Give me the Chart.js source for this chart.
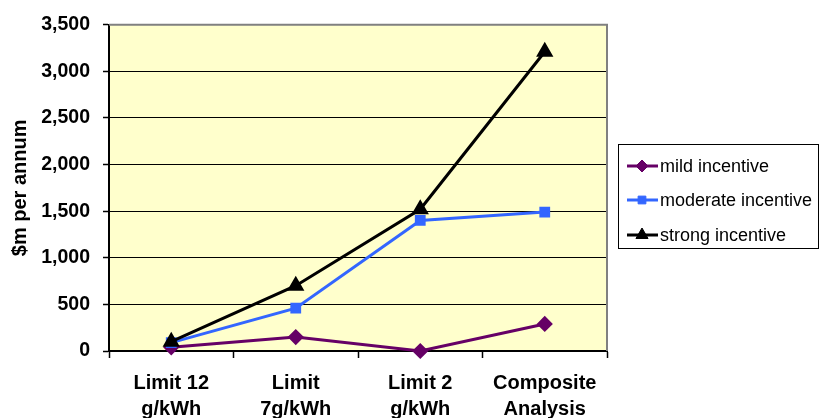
<!DOCTYPE html>
<html>
<head>
<meta charset="utf-8">
<script src="https://cdn.jsdelivr.net/npm/chart.js@4/dist/chart.umd.min.js"></script>
<style>
  html, body { margin: 0; padding: 0; background: #ffffff; }
  #wrap { width: 819px; height: 418px; position: relative; }
</style>
</head>
<body>
<div id="wrap"><canvas id="chart"></canvas></div>
<script>
// Scenario categories (two-line axis labels)
const categories = [
  ['Limit 12', 'g/kWh'],
  ['Limit', '7g/kWh'],
  ['Limit 2', 'g/kWh'],
  ['Composite', 'Analysis']
];

// Annual cost, $m, per incentive level
const mildIncentive = [40, 150, 0, 290];
const moderateIncentive = [90, 460, 1400, 1490];
const strongIncentive = [100, 700, 1520, 3210];

const seriesNames = ['mild incentive', 'moderate incentive', 'strong incentive'];

// Value axis
const yMin = 0;
const yMax = 3500;
const yStep = 500;

const FONT = '"Liberation Sans", Arial, sans-serif';

// Plot background and grey frame on top / right
const plotFrame = {
  id: 'plotFrame',
  beforeDraw(chart) {
    const { ctx, chartArea: a } = chart;
    ctx.save();
    ctx.fillStyle = '#FFFFCC';
    ctx.fillRect(a.left, a.top, a.right - a.left, a.bottom - a.top);
    ctx.restore();
  },
  afterDraw(chart) {
    const { ctx, chartArea: a } = chart;
    ctx.save();
    ctx.strokeStyle = '#808080';
    ctx.lineWidth = 2;
    ctx.beginPath();
    ctx.moveTo(a.left, a.top);
    ctx.lineTo(a.right, a.top);
    ctx.lineTo(a.right, a.bottom);
    ctx.stroke();
    ctx.restore();
  }
};

// Boxed legend with line + marker samples
const boxLegend = {
  id: 'boxLegend',
  afterDraw(chart) {
    const { ctx } = chart;
    const box = { x: 618.5, y: 144.5, w: 200, h: 104 };
    ctx.save();
    ctx.strokeStyle = '#000000';
    ctx.lineWidth = 1;
    ctx.strokeRect(box.x, box.y, box.w, box.h);
    const rows = [166, 200, 235];
    chart.data.datasets.forEach((ds, i) => {
      const y = rows[i];
      ctx.strokeStyle = ds.borderColor;
      ctx.lineWidth = 3;
      ctx.beginPath();
      ctx.moveTo(627, y);
      ctx.lineTo(658, y);
      ctx.stroke();
      ctx.fillStyle = ds.pointBackgroundColor;
      ctx.strokeStyle = ds.pointBorderColor;
      ctx.lineWidth = 1;
      Chart.helpers.drawPoint(ctx, {
        pointStyle: ds.pointStyle,
        radius: ds.pointRadius,
        borderWidth: 1,
        rotation: 0
      }, 642, y);
      ctx.fillStyle = '#000000';
      ctx.font = '18px ' + FONT;
      ctx.textAlign = 'left';
      ctx.textBaseline = 'middle';
      ctx.fillText(ds.label, 660, y + 1);
    });
    ctx.restore();
  }
};

function makeSeries(label, data, color, style, radius, order) {
  return {
    label,
    data,
    borderColor: color,
    backgroundColor: color,
    pointBackgroundColor: color,
    pointBorderColor: color,
    pointStyle: style,
    pointRadius: radius,
    pointHoverRadius: radius,
    borderWidth: 3,
    tension: 0,
    clip: false,
    order
  };
}

const chart = new Chart(document.getElementById('chart'), {
  type: 'line',
  data: {
    labels: categories,
    datasets: [
      makeSeries(seriesNames[0], mildIncentive, '#660066', 'rectRot', 6, 2),
      makeSeries(seriesNames[1], moderateIncentive, '#3366FF', 'rect', 5.5, 1),
      makeSeries(seriesNames[2], strongIncentive, '#000000', 'triangle', 7, 0)
    ]
  },
  options: {
    responsive: true,
    maintainAspectRatio: false,
    animation: false,
    events: [],
    layout: { padding: { top: 23, right: 212, bottom: 0, left: 0 } },
    plugins: {
      legend: { display: false },
      tooltip: { enabled: false }
    },
    scales: {
      x: {
        type: 'category',
        offset: true,
        grid: {
          offset: true,
          drawOnChartArea: false,
          drawTicks: true,
          tickLength: 7,
          tickColor: '#000000',
          tickWidth: 1.5
        },
        border: { display: true, color: '#000000', width: 2 },
        ticks: {
          color: '#000000',
          padding: 12,
          maxRotation: 0,
          autoSkip: false,
          font: { family: FONT, size: 20, weight: 'bold', lineHeight: 1.3 }
        },
        afterFit(scale) { scale.height = 67; }
      },
      y: {
        min: yMin,
        max: yMax,
        grid: {
          color: (c) => (c.tick && c.tick.value === yMax ? 'rgba(0,0,0,0)' : '#000000'),
          lineWidth: 1,
          drawTicks: true,
          tickLength: 6,
          tickColor: '#000000',
          tickWidth: 1.5
        },
        border: { display: true, color: '#000000', width: 2 },
        ticks: {
          stepSize: yStep,
          color: '#000000',
          padding: 13,
          font: { family: FONT, size: 19.5, weight: 'bold' },
          callback: (v) => Number(v).toLocaleString('en-US')
        },
        title: {
          display: true,
          text: '$m per annum',
          color: '#000000',
          padding: { top: 8, bottom: 0 },
          font: { family: FONT, size: 20, weight: 'bold', lineHeight: 1.2 }
        },
        afterFit(scale) { scale.width = 109; }
      }
    }
  },
  plugins: [plotFrame, boxLegend]
});
</script>
</body>
</html>
